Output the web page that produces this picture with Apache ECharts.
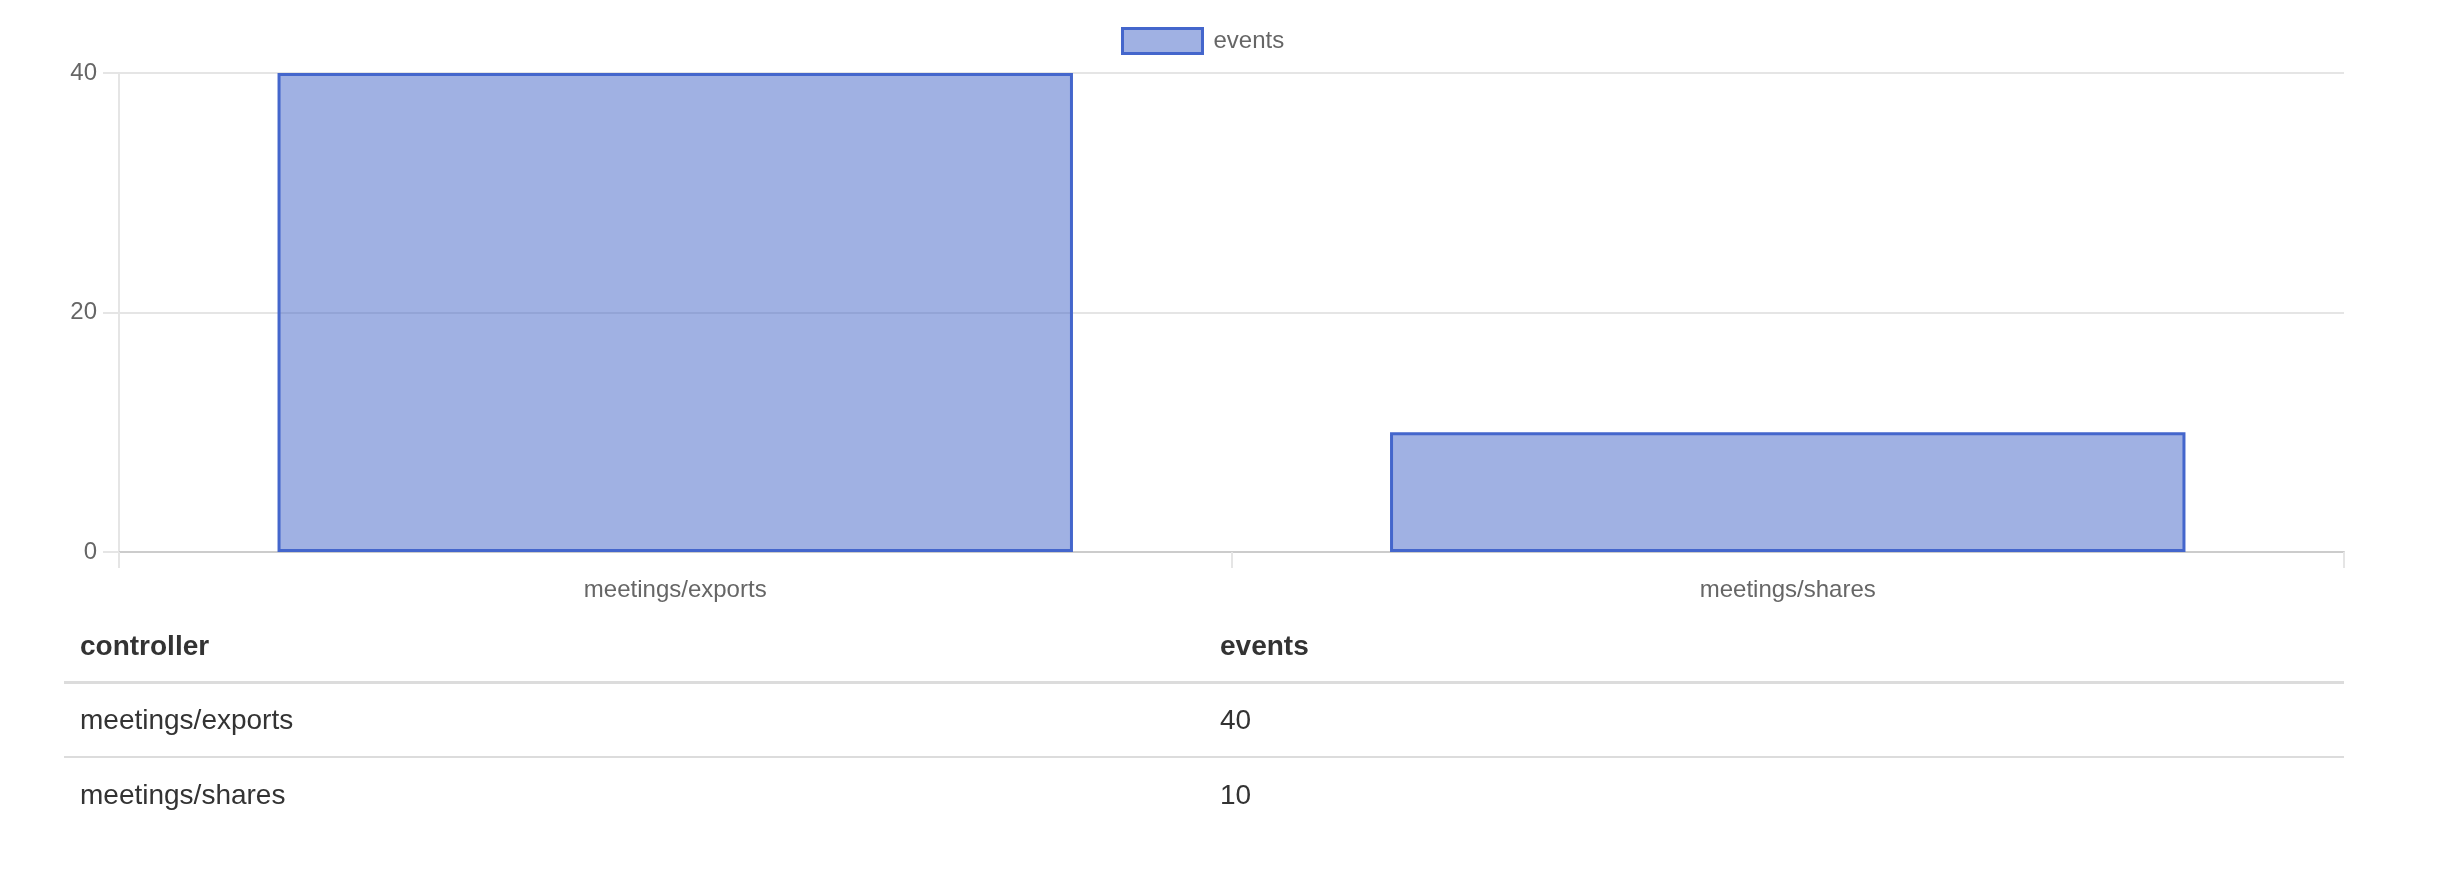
<!DOCTYPE html>
<html>
<head>
<meta charset="utf-8">
<script src="https://cdn.jsdelivr.net/npm/echarts@6/dist/echarts.min.js"></script>
<style>
  html, body { margin: 0; padding: 0; background: #fff; }
  #chart { position: absolute; left: 0; top: 0; width: 2450px; height: 896px; }
  #tbl { position: absolute; left: 64px; top: 611px; width: 2280px; border-collapse: collapse;
         font-family: "Liberation Sans", Arial, sans-serif; font-size: 28px; color: #333; table-layout: fixed; }
  #tbl th, #tbl td { padding: 0 16px; text-align: left; vertical-align: middle; box-sizing: border-box; }
  #tbl th { height: 71px; font-weight: bold; border-bottom: 3px solid #dcdcdc; }
  #tbl td { height: 75px; }
  #tbl tbody tr + tr td { border-top: 2px solid #dcdcdc; }
</style>
</head>
<body>
<div id="chart"></div>
<table id="tbl">
  <colgroup><col style="width:1140px"><col style="width:1140px"></colgroup>
  <thead><tr id="thead-row"></tr></thead>
  <tbody id="tbody"></tbody>
</table>
<script>
const columnNames = ["controller", "events"];
const categories = ["meetings/exports", "meetings/shares"];
const seriesName = "events";
const eventValues = [40, 10];
const yTicks = { min: 0, max: 40, interval: 20 };

// table
const hr = document.getElementById('thead-row');
columnNames.forEach(c => { const th = document.createElement('th'); th.textContent = c; hr.appendChild(th); });
const tb = document.getElementById('tbody');
categories.forEach((c, i) => {
  const tr = document.createElement('tr');
  [c, String(eventValues[i])].forEach(v => { const td = document.createElement('td'); td.textContent = v; tr.appendChild(td); });
  tb.appendChild(tr);
});

const chart = echarts.init(document.getElementById('chart'), null, { renderer: 'canvas' });
const font = '"Liberation Sans", Arial, sans-serif';
const fill = 'rgba(66,100,200,0.5)';
const stroke = '#4466cc';
chart.setOption({
  animation: false,
  textStyle: { fontFamily: font },
  legend: {
    left: 1116, top: 22,
    itemWidth: 80, itemHeight: 25, itemGap: 10,
    icon: 'rect',
    textStyle: { fontSize: 24, color: '#666', fontFamily: font, padding: [0, 0, 0, 6] },
    itemStyle: { color: fill, borderColor: stroke, borderWidth: 3 },
    data: [seriesName]
  },
  grid: { left: 119, right: 106, top: 73, bottom: 344, containLabel: false },
  xAxis: {
    type: 'category',
    data: categories,
    boundaryGap: true,
    axisLine: { show: true, lineStyle: { color: '#cccccc', width: 2 } },
    axisTick: { show: true, length: 16, alignWithLabel: false, lineStyle: { color: '#e5e5e5', width: 2 } },
    axisLabel: { fontSize: 24, color: '#666', margin: 26, fontFamily: font },
    splitLine: { show: false }
  },
  yAxis: {
    type: 'value',
    min: yTicks.min, max: yTicks.max, interval: yTicks.interval,
    axisLine: { show: true, lineStyle: { color: '#e5e5e5', width: 2 } },
    axisTick: { show: true, length: 16, lineStyle: { color: '#e5e5e5', width: 2 } },
    axisLabel: { fontSize: 24, color: '#666', margin: 22, fontFamily: font, padding: [10, 0, 0, 0] },
    splitLine: { show: true, lineStyle: { color: '#e5e5e5', width: 2 } }
  },
  series: [{
    name: seriesName,
    type: 'bar',
    data: eventValues,
    barWidth: '71.5%',
    itemStyle: { color: fill, borderColor: stroke, borderWidth: 3 }
  }]
});
</script>
</body>
</html>
